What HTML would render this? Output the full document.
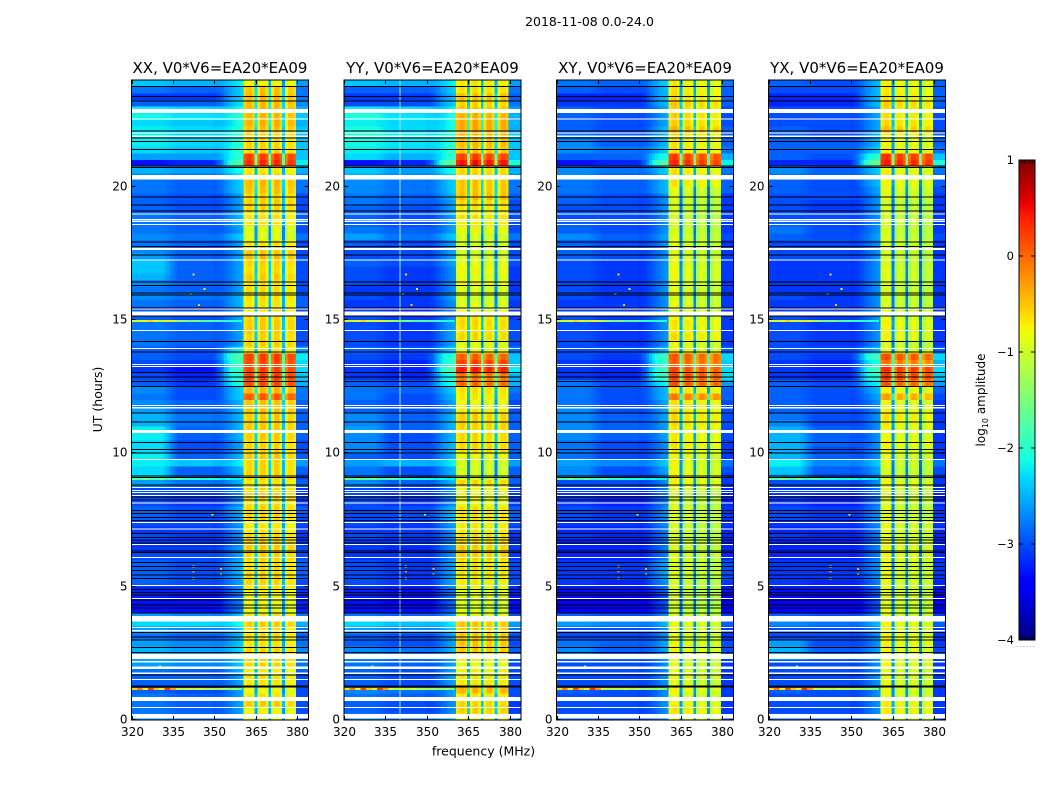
<!DOCTYPE html>
<html lang="en">
<head>
<meta charset="utf-8">
<title>2018-11-08 0.0-24.0</title>
<style>
html,body{margin:0;padding:0;background:#fff;width:1050px;height:800px;overflow:hidden}
svg{display:block}
text{font-family:"DejaVu Sans","Liberation Sans",sans-serif;fill:#000}
</style>
</head>
<body>
<svg id="chart" xmlns="http://www.w3.org/2000/svg" width="1050" height="800" viewBox="0 0 1050 800">
  <text x="589.5" y="26" font-size="12.5" text-anchor="middle">2018-11-08 0.0-24.0</text>
  <text x="483.5" y="755.5" font-size="12.5" text-anchor="middle">frequency (MHz)</text>
  <text transform="translate(102,399.5) rotate(-90)" font-size="12.5" text-anchor="middle">UT (hours)</text>
  <text transform="translate(985,400) rotate(-90)" font-size="12" text-anchor="middle">log<tspan font-size="8" dy="3">10</tspan><tspan dy="-3"> amplitude</tspan></text>
  <g id="panels"></g>
  <g id="colorbar"></g>
</svg>
<script>
// ---- axis and label data ----
var panelTitles = ["XX, V0*V6=EA20*EA09","YY, V0*V6=EA20*EA09","XY, V0*V6=EA20*EA09","YX, V0*V6=EA20*EA09"];
var freqTicks = [320,335,350,365,380];
var hourTicks = [0,5,10,15,20];
var colorTicks = [-4,-3,-2,-1,0,1];
var channels = [320,321,322,323,324,325,326,327,328,329,330,331,332,333,334,335,336,337,338,339,340,341,342,343,344,345,346,347,348,349,350,351,352,353,354,355,356,357,358,359,360,361,362,363,364,365,366,367,368,369,370,371,372,373,374,375,376,377,378,379,380,381,382,383,384];

// log10 amplitude offset per channel (shared spectral shape)
var channelShape = [0,0,0,0,0,0,0,0,0,0,0,0,0,0,0,0,0,0,0,0,0,0,0,0,0,0,0,0,0,0,
-.05,-.05,-.05,-.05,-.03,0,.03,.1,.15,.2,.25,
-.2,-.08,-.05,-.22,-1.9,
-.4,-.08,-.08,-.3,-1.9,
-.4,-.08,-.08,-.3,-1.9,
-.35,-.08,-.08,-.2,
-.2,-.2,-.2,-.2,-.2];
// share of zone A and zone C in each off-band channel; the rest is zone B
var zoneAShare = [1,1,1,1,1,1,1,1,1,1,1,1,.85,.7,.5,.3,.15,0,0,0,0,0,0,0,0,0,0,0,0,0,0,0,0,0,0,0,0,0,0,0,0,0,0,0,0,0,0,0,0,0,0,0,0,0,0,0,0,0,0,0,0,0,0,0,0];
var zoneCShare = [0,0,0,0,0,0,0,0,0,0,0,0,0,0,0,0,0,0,0,0,0,0,0,0,0,0,0,0,0,0,.1,.2,.3,.5,.7,.85,1,1,1,1,1,0,0,0,0,0,0,0,0,0,0,0,0,0,0,0,0,0,0,0,1,1,1,1,1];

// Each series holds one value per quarter hour, from 0 h upward.
// zone A = 320-335 MHz, zone B = 335-350 MHz, zone C = 350-360 and 380-384 MHz, band = 360-380 MHz
var xxZoneA = [-2.7,-2.8,-2.8,-2.8,-2.9,-2.9,-2.9,-2.8,
-2.6,-2.5,-2.5,-2.6,-2.8,-2.6,-2.3,-2.6,
-3.3,-3.3,-3.2,-3.2,-2.9,-2.9,-2.9,-2.9,
-3.0,-3.1,-3.1,-3.0,-3.1,-3.0,-2.9,-2.9,
-3.0,-3.0,-3.0,-2.6,-2.3,-2.3,-2.2,-2.2,
-2.3,-2.3,-2.2,-2.2,-2.5,-2.5,-2.6,-2.7,
-2.8,-2.7,-2.9,-3.0,-3.1,-3.0,-2.9,-2.9,
-2.8,-2.8,-2.8,-2.8,-2.9,-2.9,-2.8,-2.7,
-2.8,-2.7,-2.5,-2.4,-2.4,-2.6,-2.7,-2.8,
-2.7,-2.8,-2.8,-2.8,-2.9,-2.9,-2.9,-2.8,
-2.8,-2.7,-2.5,-3.3,-2.6,-2.3,-2.2,-2.2,
-2.2,-2.3,-2.15,-2.2,-2.9,-3.1,-2.8,-2.4];
var xxZoneB = [-2.9,-2.9,-2.9,-2.9,-3.0,-2.9,-2.9,-2.9,
-2.7,-2.6,-2.6,-2.7,-2.9,-2.7,-2.3,-2.7,
-3.3,-3.3,-3.3,-3.2,-3.0,-3.0,-3.0,-3.0,
-3.0,-3.1,-3.1,-3.1,-3.1,-3.0,-3.0,-3.0,
-3.1,-3.1,-3.0,-2.8,-2.9,-2.9,-2.4,-2.9,
-3.0,-3.0,-2.9,-2.9,-2.8,-2.8,-2.9,-2.9,
-3.0,-3.0,-3.1,-3.2,-3.3,-3.1,-3.0,-3.0,
-2.9,-2.9,-2.9,-2.9,-3.0,-3.0,-2.9,-2.8,
-2.9,-2.9,-2.9,-2.9,-2.9,-2.9,-2.9,-2.9,
-2.8,-2.9,-2.9,-2.9,-3.0,-3.0,-3.0,-2.9,
-2.9,-2.8,-2.6,-3.2,-2.6,-2.4,-2.3,-2.3,
-2.3,-2.4,-2.25,-2.3,-2.9,-3.1,-2.9,-2.5];
var xxZoneC = [-2.8,-2.8,-2.8,-2.8,-2.8,-2.8,-2.8,-2.7,
-2.6,-2.5,-2.5,-2.6,-2.7,-2.6,-2.3,-2.6,
-3.0,-3.0,-3.0,-2.9,-2.8,-2.7,-2.7,-2.7,
-2.8,-2.8,-2.9,-2.9,-2.9,-2.8,-2.8,-2.7,
-2.9,-2.9,-2.9,-2.7,-2.8,-2.7,-2.4,-2.7,
-2.8,-2.8,-2.7,-2.7,-2.7,-2.7,-2.7,-2.7,
-2.6,-2.6,-2.3,-2.2,-2.1,-2.1,-2.0,-2.4,
-2.8,-2.8,-2.8,-2.8,-2.8,-2.8,-2.7,-2.7,
-2.8,-2.8,-2.8,-2.8,-2.8,-2.8,-2.8,-2.8,
-2.6,-2.8,-2.7,-2.7,-2.8,-2.8,-2.8,-2.6,
-2.6,-2.5,-2.3,-2.0,-2.2,-2.2,-2.2,-2.2,
-2.2,-2.3,-2.2,-2.3,-2.5,-2.6,-2.6,-2.4];
var xxBand = [-.7,-.7,-.45,-.6,-.7,-.6,-.6,-.65,
-.5,-.45,-.5,-.6,-.55,-.6,-.45,-.6,
-.7,-.7,-.7,-.65,-.5,-.5,-.55,-.55,
-.5,-.45,-.45,-.5,-.6,-.65,-.5,-.5,
-.55,-.5,-.5,-.6,-.5,-.5,-.5,-.45,
-.5,-.5,-.45,-.45,-.45,-.45,-.4,-.4,
.15,-.35,.25,.3,.3,.25,.3,-.6,
-.45,-.5,-.45,-.45,-.5,-.6,-.6,-.55,
-.55,-.55,-.45,-.55,-.5,-.35,-.45,-.6,
-.8,-.8,-.6,-.6,-.5,-.45,-.5,-.4,
-.35,-.5,-.6,.4,.3,-.5,-.5,-.5,
-.4,-.3,-.35,-.35,-.35,-.35,-.4,-.7];

var yyZoneA = [-2.7,-2.9,-2.9,-2.8,-2.7,-2.9,-2.9,-2.9,
-2.8,-2.7,-2.7,-2.9,-2.9,-2.6,-2.3,-2.8,
-3.3,-3.3,-3.2,-3.2,-3.0,-3.0,-3.0,-3.0,
-3.1,-3.1,-3.1,-3.0,-3.1,-3.0,-3.0,-3.0,
-3.0,-3.0,-3.0,-2.7,-2.8,-2.8,-2.6,-2.9,
-2.7,-2.7,-2.7,-2.6,-2.7,-2.7,-2.9,-2.9,
-2.8,-2.8,-2.9,-3.1,-3.1,-3.1,-3.0,-2.9,
-3.0,-3.0,-3.0,-3.0,-3.0,-3.1,-3.1,-3.0,
-3.1,-3.0,-3.0,-3.0,-2.9,-3.0,-3.0,-2.9,
-2.6,-2.8,-2.9,-2.9,-2.9,-2.8,-2.8,-2.7,
-2.7,-2.5,-2.4,-3.3,-2.3,-2.2,-2.15,-2.1,
-2.1,-2.2,-2.1,-2.2,-3.0,-3.1,-2.9,-2.4];
var yyZoneB = [-2.8,-3.0,-3.0,-2.9,-2.8,-3.0,-3.0,-3.0,
-2.9,-2.8,-2.8,-3.0,-3.0,-2.7,-2.4,-2.9,
-3.3,-3.4,-3.3,-3.3,-3.1,-3.1,-3.1,-3.1,
-3.1,-3.2,-3.1,-3.1,-3.1,-3.1,-3.0,-3.0,
-3.1,-3.1,-3.1,-2.9,-3.0,-3.0,-2.5,-3.0,
-3.0,-3.0,-3.0,-2.9,-2.9,-2.9,-3.0,-3.0,
-3.0,-2.9,-3.0,-3.2,-3.2,-3.2,-3.1,-3.0,
-3.1,-3.1,-3.1,-3.1,-3.1,-3.2,-3.1,-3.1,
-3.1,-3.1,-3.1,-3.1,-3.0,-3.0,-3.0,-3.0,
-2.8,-2.9,-3.0,-3.0,-3.0,-2.9,-2.9,-2.8,
-2.8,-2.7,-2.6,-3.2,-2.5,-2.3,-2.25,-2.2,
-2.3,-2.3,-2.25,-2.3,-3.0,-3.1,-2.9,-2.5];
var yyZoneC = [-2.7,-2.9,-2.9,-2.8,-2.8,-2.8,-2.8,-2.8,
-2.8,-2.7,-2.7,-2.8,-2.8,-2.6,-2.4,-2.8,
-3.1,-3.1,-3.0,-3.0,-2.8,-2.8,-2.8,-2.8,
-2.9,-2.9,-2.9,-2.9,-2.9,-2.8,-2.7,-2.7,
-2.9,-2.9,-2.9,-2.7,-2.7,-2.7,-2.4,-2.7,
-2.7,-2.7,-2.7,-2.7,-2.7,-2.7,-2.8,-2.8,
-2.7,-2.6,-2.3,-2.3,-2.0,-2.2,-2.2,-2.6,
-2.8,-2.8,-2.8,-2.8,-2.9,-2.9,-2.9,-2.8,
-2.9,-2.9,-2.9,-2.9,-2.8,-2.8,-2.8,-2.8,
-2.6,-2.8,-2.8,-2.8,-2.8,-2.8,-2.7,-2.6,
-2.6,-2.5,-2.3,-1.9,-2.2,-2.2,-2.2,-2.2,
-2.3,-2.3,-2.3,-2.4,-2.6,-2.7,-2.6,-2.4];
var yyBand = [-.7,-.45,-.5,-.6,-.3,-.6,-.6,-.65,
-.7,-.6,-.4,-.4,-.4,-.45,-.4,-.7,
-.8,-.8,-.8,-.75,-.6,-.6,-.55,-.55,
-.45,-.45,-.45,-.5,-.6,-.6,-.55,-.55,
-.7,-.7,-.7,-.5,-.85,-.85,-.85,-.7,
-.5,-.5,-.5,-.5,-.45,-.45,-.6,-.7,
-.6,-.55,.1,0,.5,.3,.15,-.7,
-.8,-.5,-.55,-.5,-.55,-.7,-.8,-.85,
-.8,-.7,-.75,-.7,-.75,-.85,-.85,-.85,
-.85,-.7,-.6,-.55,-.6,-.5,-.35,-.4,
-.4,-.5,-.5,.55,.3,-.4,-.35,-.3,
-.25,-.25,-.3,-.4,-.5,-.35,-.55,-.6];

var xyZoneA = [-2.9,-3.0,-3.0,-3.0,-2.9,-3.0,-3.0,-3.0,
-3.0,-2.8,-2.7,-2.8,-3.0,-3.0,-2.6,-2.9,
-3.4,-3.4,-3.3,-3.3,-3.1,-3.1,-3.1,-3.1,
-3.2,-3.2,-3.2,-3.1,-3.2,-3.1,-3.0,-3.0,
-3.1,-3.1,-3.1,-3.0,-2.7,-2.7,-2.6,-2.8,
-2.8,-2.8,-2.7,-2.7,-2.7,-2.7,-2.7,-2.8,
-2.8,-2.8,-2.8,-3.1,-3.1,-3.1,-3.0,-3.0,
-3.0,-3.0,-3.0,-3.0,-3.0,-3.1,-3.1,-3.0,
-3.0,-3.0,-3.0,-3.0,-3.0,-2.9,-2.9,-2.9,
-2.7,-2.9,-2.9,-3.0,-3.0,-2.9,-2.9,-2.8,
-2.8,-2.7,-2.7,-3.3,-2.9,-2.7,-2.7,-2.8,
-2.9,-2.9,-2.9,-2.9,-3.1,-3.2,-2.9,-2.8];
var xyZoneB = [-3.0,-3.0,-3.0,-3.0,-3.0,-3.0,-3.0,-3.0,
-3.0,-2.9,-2.9,-2.9,-3.0,-3.0,-2.7,-3.0,
-3.4,-3.4,-3.4,-3.3,-3.2,-3.1,-3.1,-3.1,
-3.2,-3.2,-3.2,-3.2,-3.2,-3.1,-3.1,-3.1,
-3.2,-3.2,-3.1,-3.0,-3.0,-3.0,-2.7,-3.0,
-3.0,-3.0,-2.9,-2.9,-2.9,-2.9,-3.0,-3.0,
-3.0,-3.0,-3.0,-3.2,-3.2,-3.2,-3.1,-3.0,
-3.1,-3.1,-3.1,-3.1,-3.1,-3.1,-3.1,-3.1,
-3.1,-3.1,-3.1,-3.1,-3.1,-3.0,-3.0,-3.0,
-2.9,-3.0,-3.0,-3.0,-3.0,-3.0,-3.0,-2.9,
-2.9,-2.9,-2.8,-3.2,-2.9,-2.8,-2.9,-2.9,
-3.0,-3.0,-3.0,-3.0,-3.1,-3.2,-3.0,-2.9];
var xyZoneC = [-2.9,-2.9,-2.9,-2.9,-2.9,-2.9,-2.9,-2.9,
-2.9,-2.8,-2.8,-2.8,-2.9,-2.9,-2.7,-2.9,
-3.2,-3.2,-3.2,-3.1,-2.9,-2.8,-2.8,-2.8,
-3.0,-3.0,-3.0,-3.0,-3.0,-2.9,-2.9,-2.9,
-3.0,-3.0,-3.0,-2.9,-2.9,-2.8,-2.6,-2.9,
-2.9,-2.9,-2.8,-2.8,-2.8,-2.8,-2.8,-2.8,
-2.7,-2.7,-2.4,-2.1,-2.1,-2.2,-2.1,-2.7,
-2.9,-2.9,-2.9,-2.9,-2.9,-2.9,-2.9,-2.9,
-2.9,-2.9,-2.9,-2.9,-2.9,-2.9,-2.9,-2.9,
-2.8,-2.9,-2.9,-2.9,-2.9,-2.9,-2.9,-2.7,
-2.7,-2.7,-2.6,-2.0,-2.3,-2.6,-2.7,-2.7,
-2.7,-2.8,-2.8,-2.8,-2.7,-2.7,-2.7,-2.6];
var xyBand = [-.75,-.6,-.7,-.8,-.7,-.8,-.75,-.8,
-.8,-.75,-.7,-.75,-.8,-.8,-.75,-.85,
-.9,-.95,-.9,-.9,-.9,-.85,-.85,-.85,
-.85,-.85,-.85,-.9,-.9,-.9,-.85,-.85,
-.9,-.9,-.85,-.7,-.7,-.75,-.75,-.75,
-.65,-.6,-.65,-.65,-.55,-.55,-.6,-.6,
-.05,-.6,.2,.25,.25,.1,.15,-.7,
-.8,-.55,-.65,-.6,-.7,-.75,-.8,-.85,
-.8,-.8,-.75,-.75,-.8,-.8,-.85,-.8,
-.85,-.9,-.9,-.9,-.9,-.9,-.85,-.8,
-.6,-.6,-.6,.4,.3,-.6,-.6,-.55,
-.35,-.5,-.5,-.5,-.45,-.55,-.6,-.65];

var yxZoneA = [-2.9,-3.0,-3.0,-3.0,-2.9,-3.0,-3.0,-3.0,
-3.0,-2.6,-2.5,-2.6,-3.0,-3.0,-2.7,-2.9,
-3.4,-3.4,-3.3,-3.3,-3.1,-3.1,-3.1,-3.1,
-3.2,-3.2,-3.2,-3.1,-3.2,-3.1,-3.0,-3.0,
-3.1,-3.1,-3.1,-3.0,-2.5,-2.4,-2.2,-2.5,
-2.5,-2.5,-2.5,-2.5,-2.7,-2.8,-2.9,-2.9,
-2.9,-2.9,-2.9,-3.1,-3.1,-3.1,-3.0,-3.0,
-3.0,-3.0,-3.0,-3.0,-3.0,-3.1,-3.1,-3.0,
-3.1,-3.1,-3.1,-3.1,-3.1,-3.0,-3.0,-3.0,
-2.9,-2.8,-2.9,-3.0,-3.0,-3.0,-3.0,-2.9,
-2.9,-2.8,-2.7,-3.2,-2.9,-2.9,-2.9,-2.9,
-2.9,-3.0,-3.0,-3.0,-3.2,-3.2,-3.0,-2.9];
var yxZoneB = [-3.0,-3.0,-3.0,-3.0,-3.0,-3.0,-3.0,-3.0,
-3.0,-2.9,-2.9,-3.0,-3.0,-3.0,-2.8,-3.0,
-3.4,-3.4,-3.4,-3.3,-3.2,-3.1,-3.1,-3.1,
-3.2,-3.2,-3.2,-3.2,-3.2,-3.1,-3.1,-3.1,
-3.2,-3.2,-3.1,-3.0,-3.0,-2.9,-2.7,-2.9,
-3.0,-2.9,-2.9,-2.9,-3.0,-3.0,-3.0,-3.0,
-3.0,-3.0,-3.0,-3.2,-3.2,-3.2,-3.1,-3.0,
-3.1,-3.1,-3.1,-3.1,-3.1,-3.1,-3.1,-3.1,
-3.1,-3.1,-3.1,-3.1,-3.1,-3.0,-3.0,-3.0,
-3.0,-3.0,-3.0,-3.0,-3.1,-3.1,-3.0,-3.0,
-3.0,-2.9,-2.9,-3.2,-3.0,-2.9,-2.9,-3.0,
-3.0,-3.0,-3.0,-3.0,-3.2,-3.2,-3.0,-3.0];
var yxZoneC = [-2.9,-2.9,-2.9,-2.9,-2.9,-2.9,-2.9,-2.9,
-2.9,-2.8,-2.8,-2.9,-2.9,-2.9,-2.7,-2.9,
-3.2,-3.2,-3.2,-3.1,-3.0,-2.9,-2.9,-2.9,
-3.0,-3.0,-3.0,-3.0,-3.0,-2.9,-2.9,-2.9,
-3.0,-3.0,-3.0,-2.9,-2.9,-2.8,-2.6,-2.9,
-2.9,-2.9,-2.9,-2.9,-2.9,-2.9,-2.9,-2.9,
-2.8,-2.7,-2.4,-2.2,-2.1,-2.3,-2.1,-2.7,
-2.9,-2.9,-2.9,-2.9,-2.9,-2.9,-2.9,-2.9,
-2.9,-2.9,-2.9,-2.9,-2.9,-2.9,-2.9,-2.9,
-2.8,-2.9,-2.9,-2.9,-2.9,-2.9,-2.9,-2.8,
-2.7,-2.7,-2.6,-1.9,-2.2,-2.6,-2.7,-2.7,
-2.8,-2.8,-2.8,-2.8,-2.7,-2.7,-2.7,-2.7];
var yxBand = [-.75,-.65,-.65,-.8,-.8,-.8,-.8,-.8,
-.75,-.75,-.7,-.7,-.7,-.75,-.7,-.85,
-.8,-.85,-.85,-.85,-.8,-.8,-.8,-.8,
-.75,-.75,-.75,-.8,-.8,-.8,-.85,-.85,
-.85,-.85,-.85,-.75,-.85,-.9,-.85,-.8,
-.75,-.7,-.75,-.75,-.65,-.6,-.7,-.75,
-.25,-.7,.15,.3,.35,0,.2,-.8,
-.9,-.7,-.75,-.7,-.8,-.85,-.9,-.9,
-.9,-.9,-.85,-.85,-.9,-.9,-.9,-.85,
-.9,-.9,-.9,-.9,-.9,-.95,-.85,-.8,
-.7,-.7,-.7,.45,.35,-.7,-.7,-.7,
-.4,-.55,-.6,-.55,-.5,-.6,-.65,-.7];

// per-panel offset of subbands 360-365, 365-370, 370-375, 375-380
var xxSubbands = [0,.05,.05,-.05];
var yySubbands = [0,.05,0,0];
var xySubbands = [.05,0,-.05,-.1];
var yxSubbands = [.05,0,0,-.1];

// flagged time ranges: start hours and end hours (blank rows)
var blankStarts = [.06,.45,.71,1.51,1.73,1.92,2.15,2.29,3.31,3.46,3.69,4.54,5.03,6.08,6.56,7.14,7.39,8.12,8.40,8.52,8.60,8.70,9.76,10.76,11.69,11.78,13.25,13.31,13.91,14.59,15.16,15.40,17.23,17.63,18.56,18.67,18.74,18.96,20.26,21.87,22.0,22.51,22.76];
var blankEnds = [.22,.48,.86,1.54,1.79,2.0,2.21,2.48,3.38,3.49,3.90,4.57,5.06,6.12,6.60,7.18,7.42,8.16,8.44,8.55,8.63,8.73,9.79,10.88,11.73,11.82,13.28,13.35,13.95,14.63,15.32,15.44,17.27,17.7,18.6,18.71,18.78,19.0,20.44,21.91,22.04,22.56,22.91];
// zero-amplitude integrations (black rows), by hour
var zeroHours = [1.23,1.28,1.68,2.54,2.71,3.0,3.12,3.29,4.02,4.2,4.31,4.5,4.69,4.78,4.89,5.31,5.44,5.6,5.75,5.9,6.29,6.33,6.63,6.75,6.85,7.0,7.49,7.6,7.75,7.85,8.25,8.36,8.81,9.1,9.15,10.02,10.15,10.41,11.18,11.52,12.51,12.7,12.86,13.04,13.8,14.2,15.15,15.45,15.93,16.01,16.29,16.43,17.43,17.75,17.93,19.08,19.31,19.61,20.72,20.78,21.4,21.69,21.83,22.08,23.22,23.39,23.76];

// narrow-time interference rows: hour and level per 2 MHz from 320 to 360 MHz
var rfiHours = [1.17,9.03,14.96];
var rfiRow1 = [-.6,-.1,-.8,.2,-.5,-.9,.3,-.3,-1,-1.2,-1,-1.2,-.9,-1.2,-1.1,-1.3,-1.2,-1.4,-1.3,-1.5];
var rfiRow2 = [-1.6,-1.8,-1.4,-1.7,-1.8,-1.5,-1.9,-1.8,-1.6,-1.9,-2,-1.9,-2,-2.1,-2,-2.1,-2.2,-2.1,-2.2,-2.2];
var rfiRow3 = [-.9,-1,-.8,-.6,-.9,-1.1,-.7,-1,-1.2,-1.4,-1.6,-1.4,-1.7,-1.8,-1.7,-1.9,-1.9,-2,-2,-2.1];
// interference spots
var spotFreqs = [342,342,342,352,352,330,349,341,342,346,344];
var spotHours = [5.35,5.6,5.8,5.5,5.7,2.05,7.75,16.0,16.75,16.2,15.6];
var spotLevels = [-.6,-.2,-.6,-.7,-.4,-1,-.8,-.4,-.6,-.7,-.5];
// persistent interference channels per panel (only YY shows one)
var yyLineFreqs = [340];

var xxSeries = [xxZoneA, xxZoneB, xxZoneC, xxBand, xxSubbands];
var yySeries = [yyZoneA, yyZoneB, yyZoneC, yyBand, yySubbands];
var xySeries = [xyZoneA, xyZoneB, xyZoneC, xyBand, xySubbands];
var yxSeries = [yxZoneA, yxZoneB, yxZoneC, yxBand, yxSubbands];
var rfiRows = [rfiRow1, rfiRow2, rfiRow3];

// ---- scales ----
var NS = "http://www.w3.org/2000/svg";
var panelLefts = [131.5, 344, 556.5, 768.5];
var panelWidth = 177, plotTop = 80, plotBottom = 720;
var cbLeft = 1019, cbRight = 1035, cbTop = 160, cbBottom = 640;
function freqToX(f, x0){ return x0 + (f - 320) * panelWidth / 64; }
function hourToY(h){ return plotBottom - h * (plotBottom - plotTop) / 24; }
function levelToY(v){ return cbBottom - (v + 4) * (cbBottom - cbTop) / 5; }
function seg(x, pts){
  for (var i = 0; i < pts.length - 1; i++) {
    if (x <= pts[i + 1][0]) {
      return pts[i][1] + (pts[i + 1][1] - pts[i][1]) * (x - pts[i][0]) / (pts[i + 1][0] - pts[i][0]);
    }
  }
  return pts[pts.length - 1][1];
}
function jet(t){
  t = Math.max(0, Math.min(1, t));
  var r = seg(t, [[0,0],[.35,0],[.66,1],[.89,1],[1,.5]]);
  var g = seg(t, [[0,0],[.125,0],[.375,1],[.64,1],[.91,0],[1,0]]);
  var b = seg(t, [[0,.5],[.11,1],[.34,1],[.65,0],[1,0]]);
  return "rgb(" + Math.round(r * 255) + "," + Math.round(g * 255) + "," + Math.round(b * 255) + ")";
}
function levelColor(v){ return jet((v + 4) / 5); }
function make(parent, tag, attrs){
  var el = document.createElementNS(NS, tag);
  for (var k in attrs) { el.setAttribute(k, attrs[k]); }
  parent.appendChild(el);
  return el;
}

// ---- panels ----
var panelsGroup = document.getElementById("panels");
var allSeries = [xxSeries, yySeries, xySeries, yxSeries];
var panelKeys = ["xx", "yy", "xy", "yx"];
var lineFreqSets = [[], yyLineFreqs, [], []];

function channelLevel(series, rowIndex, chIndex){
  var f = channels[chIndex];
  var base;
  if (f <= 360 || f >= 380) {
    var a = zoneAShare[chIndex], c = zoneCShare[chIndex];
    base = a * series[0][rowIndex] + (1 - a - c) * series[1][rowIndex] + c * series[2][rowIndex];
  } else {
    base = series[3][rowIndex] + series[4][Math.min(3, Math.floor((f - 360) / 5))];
  }
  return base + channelShape[chIndex];
}

allSeries.forEach(function(series, p){
  var x0 = panelLefts[p];
  var key = panelKeys[p];
  var g = make(panelsGroup, "g", {});
  
  

  var cells = make(g, "g", {"shape-rendering": "crispEdges"});
  
  

  for (var r = 0; r < series[0].length; r++) {
    var yTop = hourToY((r + 1) * .25), yBot = hourToY(r * .25);
    var runStart = null, runColor = null;
    for (var c = 0; c <= channels.length; c++) {
      var color = c < channels.length ? levelColor(channelLevel(series, r, c)) : null;
      if (color !== runColor) {
        if (runColor !== null) {
          var xa = freqToX(Math.max(320, channels[runStart] - .5), x0);
          var xb = freqToX(Math.min(384, channels[c - 1] + .5), x0);
          var cell = make(cells, "rect", {x: xa, y: yTop, width: xb - xa, height: yBot - yTop, fill: runColor});
          
          
        }
        runStart = c;
        runColor = color;
      }
    }
  }

  lineFreqSets[p].forEach(function(f){
    var line = make(cells, "rect", {x: freqToX(f, x0), y: plotTop, width: 1, height: plotBottom - plotTop, fill: "#9fe8f5"});
    
    
  });

  rfiHours.forEach(function(h, i){
    rfiRows[i].forEach(function(v, j){
      var xa = freqToX(320 + j * 2, x0);
      var rf = make(cells, "rect", {x: xa, y: hourToY(h) - 1, width: freqToX(322 + j * 2, x0) - xa, height: 2, fill: levelColor(v)});
      
      
    });
  });

  spotFreqs.forEach(function(f, i){
    var sp = make(cells, "rect", {x: freqToX(f, x0), y: hourToY(spotHours[i]), width: 2, height: 2, fill: levelColor(spotLevels[i])});
    
    
  });

  blankStarts.forEach(function(h, i){
    var yA = hourToY(blankEnds[i]), yB = hourToY(h);
    var bl = make(cells, "rect", {x: x0, y: yA, width: panelWidth, height: Math.max(1, yB - yA), fill: "#ffffff"});
    
    
  });

  zeroHours.forEach(function(h){
    var zr = make(cells, "rect", {x: x0, y: hourToY(h) - .5, width: panelWidth, height: 1, fill: "#000000"});
    
    
  });

  var frame = make(g, "rect", {x: x0, y: plotTop, width: panelWidth, height: plotBottom - plotTop, fill: "none", stroke: "#000", "stroke-width": 1});
  
  

  var title = make(g, "text", {x: x0 + panelWidth / 2, y: 73, "font-size": 15, "text-anchor": "middle"});
  
  
  title.textContent = panelTitles[p];

  freqTicks.forEach(function(f){
    var x = Math.round(freqToX(f, x0)) + .5;
    var t1 = make(g, "line", {x1: x, x2: x, y1: plotBottom, y2: plotBottom - 4, stroke: "#000", "stroke-width": 1});
    
    
    var t2 = make(g, "line", {x1: x, x2: x, y1: plotTop, y2: plotTop + 4, stroke: "#000", "stroke-width": 1});
    
    
    var lab = make(g, "text", {x: x, y: 736, "font-size": 12, "text-anchor": "middle"});
    
    
    lab.textContent = String(f);
  });

  hourTicks.forEach(function(h){
    var y = Math.round(hourToY(h)) - .5;
    var t1 = make(g, "line", {x1: x0, x2: x0 + 4, y1: y, y2: y, stroke: "#000", "stroke-width": 1});
    
    
    var t2 = make(g, "line", {x1: x0 + panelWidth, x2: x0 + panelWidth - 4, y1: y, y2: y, stroke: "#000", "stroke-width": 1});
    
    
    var lab = make(g, "text", {x: x0 - 4, y: y + 4, "font-size": 12, "text-anchor": "end"});
    
    
    lab.textContent = String(h);
  });
});

// ---- colorbar ----
var cb = document.getElementById("colorbar");
var cbRamp = make(cb, "g", {"shape-rendering": "crispEdges"});


for (var py = cbTop; py < cbBottom; py += 2) {
  var lvl = 1 - (py + 1 - cbTop) * 5 / (cbBottom - cbTop);
  var strip = make(cbRamp, "rect", {x: cbLeft, y: py, width: cbRight - cbLeft, height: 2, fill: levelColor(lvl)});
  
  
}
var cbFrame = make(cb, "rect", {x: cbLeft, y: cbTop, width: cbRight - cbLeft, height: cbBottom - cbTop, fill: "none", stroke: "#000", "stroke-width": 1});


colorTicks.forEach(function(v){
  var y = Math.round(levelToY(v));
  var t1 = make(cb, "line", {x1: cbLeft, x2: cbLeft + 4, y1: y, y2: y, stroke: "#000", "stroke-width": 1});
  
  
  var t2 = make(cb, "line", {x1: cbRight, x2: cbRight - 4, y1: y, y2: y, stroke: "#000", "stroke-width": 1});
  
  
  var lab = make(cb, "text", {x: 1014, y: y + 4, "font-size": 11.5, "text-anchor": "end"});
  
  
  lab.textContent = String(v).replace("-", "\u2212");
});
[1,2,3,4,5].forEach(function(n){
  var x = cbLeft + n * (cbRight - cbLeft) / 6 + .5;
  var t1 = make(cb, "line", {x1: x, x2: x, y1: cbTop, y2: cbTop + 4, stroke: "#000", "stroke-width": .8});
  
  
  var t2 = make(cb, "line", {x1: x, x2: x, y1: cbBottom, y2: cbBottom - 4, stroke: "#000", "stroke-width": .8});
  
  
});
var dots = make(cb, "text", {x: 1017, y: 647, "font-size": 5, fill: "#555", "letter-spacing": "1.5"});


dots.textContent = "......";
</script>
</body>
</html>
